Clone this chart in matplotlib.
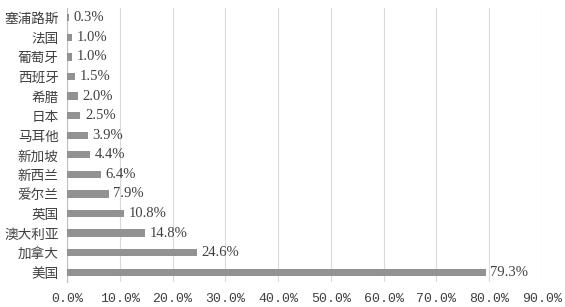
import matplotlib
matplotlib.use("Agg")
import matplotlib.pyplot as plt
from matplotlib.ticker import FuncFormatter

categories = ["美国", "加拿大", "澳大利亚", "英国", "爱尔兰", "新西兰", "新加坡",
              "马耳他", "日本", "希腊", "西班牙", "葡萄牙", "法国", "塞浦路斯"]
values = [79.3, 24.6, 14.8, 10.8, 7.9, 6.4, 4.4, 3.9, 2.5, 2.0, 1.5, 1.0, 1.0, 0.3]
xticks = [0, 10, 20, 30, 40, 50, 60, 70, 80, 90]

fig = plt.figure(figsize=(5.65, 3.07), dpi=100)
ax = fig.add_axes([67/565, 1 - 282/307, 475/565, 274/307])

y = list(range(len(categories)))
ax.barh(y, values, height=0.37, color="#929292", zorder=3)
for yi, v in zip(y, values):
    ax.text(v + 0.9, yi, f"{v:.1f}%", va="center", ha="left",
            fontsize=10.5, family="Liberation Serif", color="#404040")

ax.set_xlim(0, 90)
ax.set_ylim(-0.5, len(categories) - 0.5)
ax.set_yticks(y)
ax.set_yticklabels(categories, family="Noto Sans CJK SC", fontsize=9.8, color="#404040")
ax.set_xticks(xticks)
ax.xaxis.set_major_formatter(FuncFormatter(lambda v, p: f"{v:.1f}%"))
for lbl in ax.get_xticklabels():
    lbl.set_family("Liberation Mono")
    lbl.set_fontsize(9.5)
    lbl.set_color("#404040")
ax.tick_params(axis="y", length=0, pad=6)
ax.tick_params(axis="x", length=0, pad=8)
ax.grid(axis="x", color="#d9d9d9", linewidth=0.8, zorder=0)
for s in ["top", "right", "bottom"]:
    ax.spines[s].set_visible(False)
ax.spines["left"].set_color("#bfbfbf")
ax.spines["left"].set_linewidth(0.8)

fig.savefig("out.png", dpi=100)
